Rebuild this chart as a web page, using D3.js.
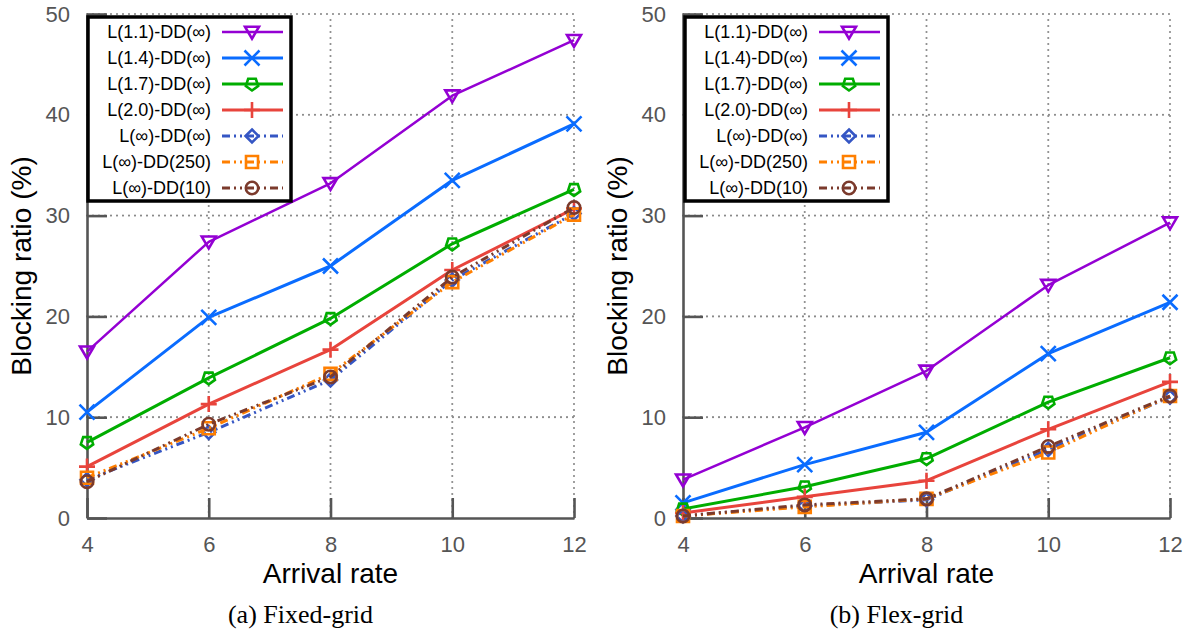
<!DOCTYPE html>
<html>
<head>
<meta charset="utf-8">
<script src="https://cdn.jsdelivr.net/npm/d3@7"></script>
<style>
  html, body { margin: 0; padding: 0; background: #fff; }
  svg { display: block; }
</style>
</head>
<body>
<svg id="chart" width="1190" height="633"></svg>
<script>
// Arrival rates on the x axis
const arrivalRates = [4, 6, 8, 10, 12];
const yTicks = [0, 10, 20, 30, 40, 50];

// Series labels
const seriesNames = [
  "L(1.1)-DD(\u221e)",
  "L(1.4)-DD(\u221e)",
  "L(1.7)-DD(\u221e)",
  "L(2.0)-DD(\u221e)",
  "L(\u221e)-DD(\u221e)",
  "L(\u221e)-DD(250)",
  "L(\u221e)-DD(10)"
];

// Blocking ratio (%) — fixed-grid
const fixedL11 = [16.5, 27.4, 33.2, 41.9, 47.4];
const fixedL14 = [10.5, 19.9, 25.0, 33.5, 39.1];
const fixedL17 = [7.5, 13.9, 19.8, 27.2, 32.6];
const fixedL20 = [5.1, 11.3, 16.7, 24.6, 30.7];
const fixedInf = [3.8, 8.5, 13.7, 23.6, 30.2];
const fixedDD250 = [4.0, 8.9, 14.3, 23.4, 30.1];
const fixedDD10 = [3.6, 9.3, 14.0, 23.9, 30.8];

// Blocking ratio (%) — flex-grid
const flexL11 = [3.8, 9.0, 14.6, 23.1, 29.3];
const flexL14 = [1.5, 5.3, 8.5, 16.3, 21.4];
const flexL17 = [0.9, 3.1, 5.9, 11.5, 15.9];
const flexL20 = [0.5, 2.1, 3.7, 8.8, 13.5];
const flexInf = [0.2, 1.2, 1.8, 6.8, 12.0];
const flexDD250 = [0.2, 1.1, 1.9, 6.5, 12.1];
const flexDD10 = [0.2, 1.3, 1.9, 7.1, 12.1];

const fixedSeries = [fixedL11, fixedL14, fixedL17, fixedL20, fixedInf, fixedDD250, fixedDD10];
const flexSeries = [flexL11, flexL14, flexL17, flexL20, flexInf, flexDD250, flexDD10];

const seriesColors = ["#9400d3", "#0a6cff", "#00ad00", "#e8443c", "#3556c4", "#ff7f00", "#7b3a2c"];
const seriesDash = [null, null, null, null, "8,4,2,4,2,4", "8,4,2,4,2,4", "8,4,2,4,2,4"];
const seriesWidth = [2.5, 3, 3, 3, 3, 3, 3];
const seriesMarker = ["triDown", "cross", "pentagon", "plus", "diamond", "square", "circle"];

// Marker path builders (centered at 0,0)
function markerPath(kind) {
  const p = d3.path();
  switch (kind) {
    case "triDown": {
      const s = 7;
      p.moveTo(-s, -s * 0.75); p.lineTo(s, -s * 0.75); p.lineTo(0, s * 0.95); p.closePath();
      break;
    }
    case "cross": {
      const s = 7.5;
      p.moveTo(-s, -s); p.lineTo(s, s); p.moveTo(-s, s); p.lineTo(s, -s);
      break;
    }
    case "pentagon": {
      // pentagon with a vertex pointing down
      const r = 6.5;
      for (let i = 0; i < 5; i++) {
        const a = Math.PI / 2 + i * 2 * Math.PI / 5;
        const qx = r * Math.cos(a), qy = r * Math.sin(a);
        if (i === 0) p.moveTo(qx, qy); else p.lineTo(qx, qy);
      }
      p.closePath();
      break;
    }
    case "plus": {
      const s = 8;
      p.moveTo(-s, 0); p.lineTo(s, 0); p.moveTo(0, -s); p.lineTo(0, s);
      break;
    }
    case "diamond": {
      const s = 6.5;
      p.moveTo(0, -s); p.lineTo(s, 0); p.lineTo(0, s); p.lineTo(-s, 0); p.closePath();
      break;
    }
    case "square": {
      const s = 6;
      p.rect(-s, -s, 2 * s, 2 * s);
      break;
    }
    case "circle": {
      p.arc(0, 0, 6.2, 0, 2 * Math.PI);
      break;
    }
  }
  return p.toString();
}

const svg = d3.select("#chart");
const fontSans = "Arial, 'Liberation Sans', Helvetica, sans-serif";
const fontSerif = "'Times New Roman', 'Liberation Serif', Times, serif";

const panels = [
  { left: 87, right: 574, data: fixedSeries, caption: "(a)  Fixed-grid", legendX: 88 },
  { left: 683, right: 1170, data: flexSeries, caption: "(b)  Flex-grid", legendX: 685 }
];
const plotTop = 14, plotBottom = 518;

panels.forEach(panel => {
  const x = d3.scaleLinear().domain([4, 12]).range([panel.left, panel.right]);
  const y = d3.scaleLinear().domain([0, 50]).range([plotBottom, plotTop]);
  const g = svg.append("g");

  // dotted grid (also closes the frame on top and right)
  const grid = g.append("g")
    .attr("stroke", "#8a8a8a")
    .attr("stroke-width", 2.2)
    .attr("stroke-linecap", "round")
    .attr("stroke-dasharray", "0,6");
  grid.selectAll("line.h").data(yTicks.filter(v => v > 0)).join("line")
    .attr("class", "h")
    .attr("x1", x(4)).attr("x2", x(12))
    .attr("y1", d => y(d)).attr("y2", d => y(d));
  grid.selectAll("line.v").data(arrivalRates.filter(v => v > 4)).join("line")
    .attr("class", "v")
    .attr("x1", d => x(d)).attr("x2", d => x(d))
    .attr("y1", y(0)).attr("y2", y(50));

  // axes
  const yAxis = d3.axisLeft(y).tickValues(yTicks).tickSize(-20).tickSizeOuter(0).tickPadding(17);
  const xAxis = d3.axisBottom(x).tickValues(arrivalRates).tickSize(-20).tickSizeOuter(0).tickPadding(18);

  const ya = g.append("g").attr("transform", `translate(${panel.left},0)`).call(yAxis);
  const xa = g.append("g").attr("transform", `translate(0,${plotBottom})`).call(xAxis);
  [ya, xa].forEach(a => {
    a.select(".domain").attr("stroke", "#555").attr("stroke-width", 2.6);
    a.selectAll(".tick line").attr("stroke", "#555").attr("stroke-width", 2.6);
    a.selectAll(".tick text")
      .attr("fill", "#555")
      .style("font-family", fontSans)
      .style("font-size", "22px");
  });

  // series lines and markers
  panel.data.forEach((vals, i) => {
    const pts = arrivalRates.map((r, k) => [x(r), y(vals[k])]);
    g.append("path")
      .attr("d", d3.line()(pts))
      .attr("fill", "none")
      .attr("stroke", seriesColors[i])
      .attr("stroke-width", seriesWidth[i])
      .attr("stroke-linejoin", "round")
      .attr("stroke-dasharray", seriesDash[i]);
    g.selectAll(null).data(pts).join("path")
      .attr("transform", d => `translate(${d[0]},${d[1]})`)
      .attr("d", markerPath(seriesMarker[i]))
      .attr("fill", "none")
      .attr("stroke", seriesColors[i])
      .attr("stroke-width", 2.6);
  });

  // axis titles
  g.append("text")
    .attr("x", (panel.left + panel.right) / 2)
    .attr("y", 583)
    .attr("text-anchor", "middle")
    .style("font-family", fontSans)
    .style("font-size", "28px")
    .attr("fill", "#000")
    .text("Arrival rate");
  g.append("text")
    .attr("transform", `translate(${panel.left - 56},${(plotTop + plotBottom) / 2}) rotate(-90)`)
    .attr("text-anchor", "middle")
    .style("font-family", fontSans)
    .style("font-size", "28px")
    .attr("fill", "#000")
    .text("Blocking ratio (%)");

  // caption
  g.append("text")
    .attr("x", (panel.left + panel.right) / 2 - 30)
    .attr("y", 623)
    .attr("text-anchor", "middle")
    .style("font-family", fontSerif)
    .style("font-size", "26px")
    .attr("fill", "#000")
    .text(panel.caption);

  // legend
  const lx = panel.legendX, ly = 17, lw = 203, rowH = 26;
  const leg = g.append("g");
  leg.append("rect")
    .attr("x", lx).attr("y", ly).attr("width", lw).attr("height", 184)
    .attr("fill", "#fff").attr("stroke", "#000").attr("stroke-width", 3.5);
  seriesNames.forEach((name, i) => {
    const cy = ly + 15 + i * rowH;
    leg.append("text")
      .attr("x", lx + 123).attr("y", cy).attr("dy", "0.35em")
      .attr("text-anchor", "end")
      .style("font-family", fontSans)
      .style("font-size", "18px")
      .attr("fill", "#000")
      .text(name);
    leg.append("line")
      .attr("x1", lx + 134).attr("x2", lx + 195)
      .attr("y1", cy).attr("y2", cy)
      .attr("stroke", seriesColors[i])
      .attr("stroke-width", seriesWidth[i])
      .attr("stroke-dasharray", seriesDash[i]);
    leg.append("path")
      .attr("transform", `translate(${lx + 164},${cy})`)
      .attr("d", markerPath(seriesMarker[i]))
      .attr("fill", "none")
      .attr("stroke", seriesColors[i])
      .attr("stroke-width", 2.6);
  });
});
</script>
</body>
</html>
